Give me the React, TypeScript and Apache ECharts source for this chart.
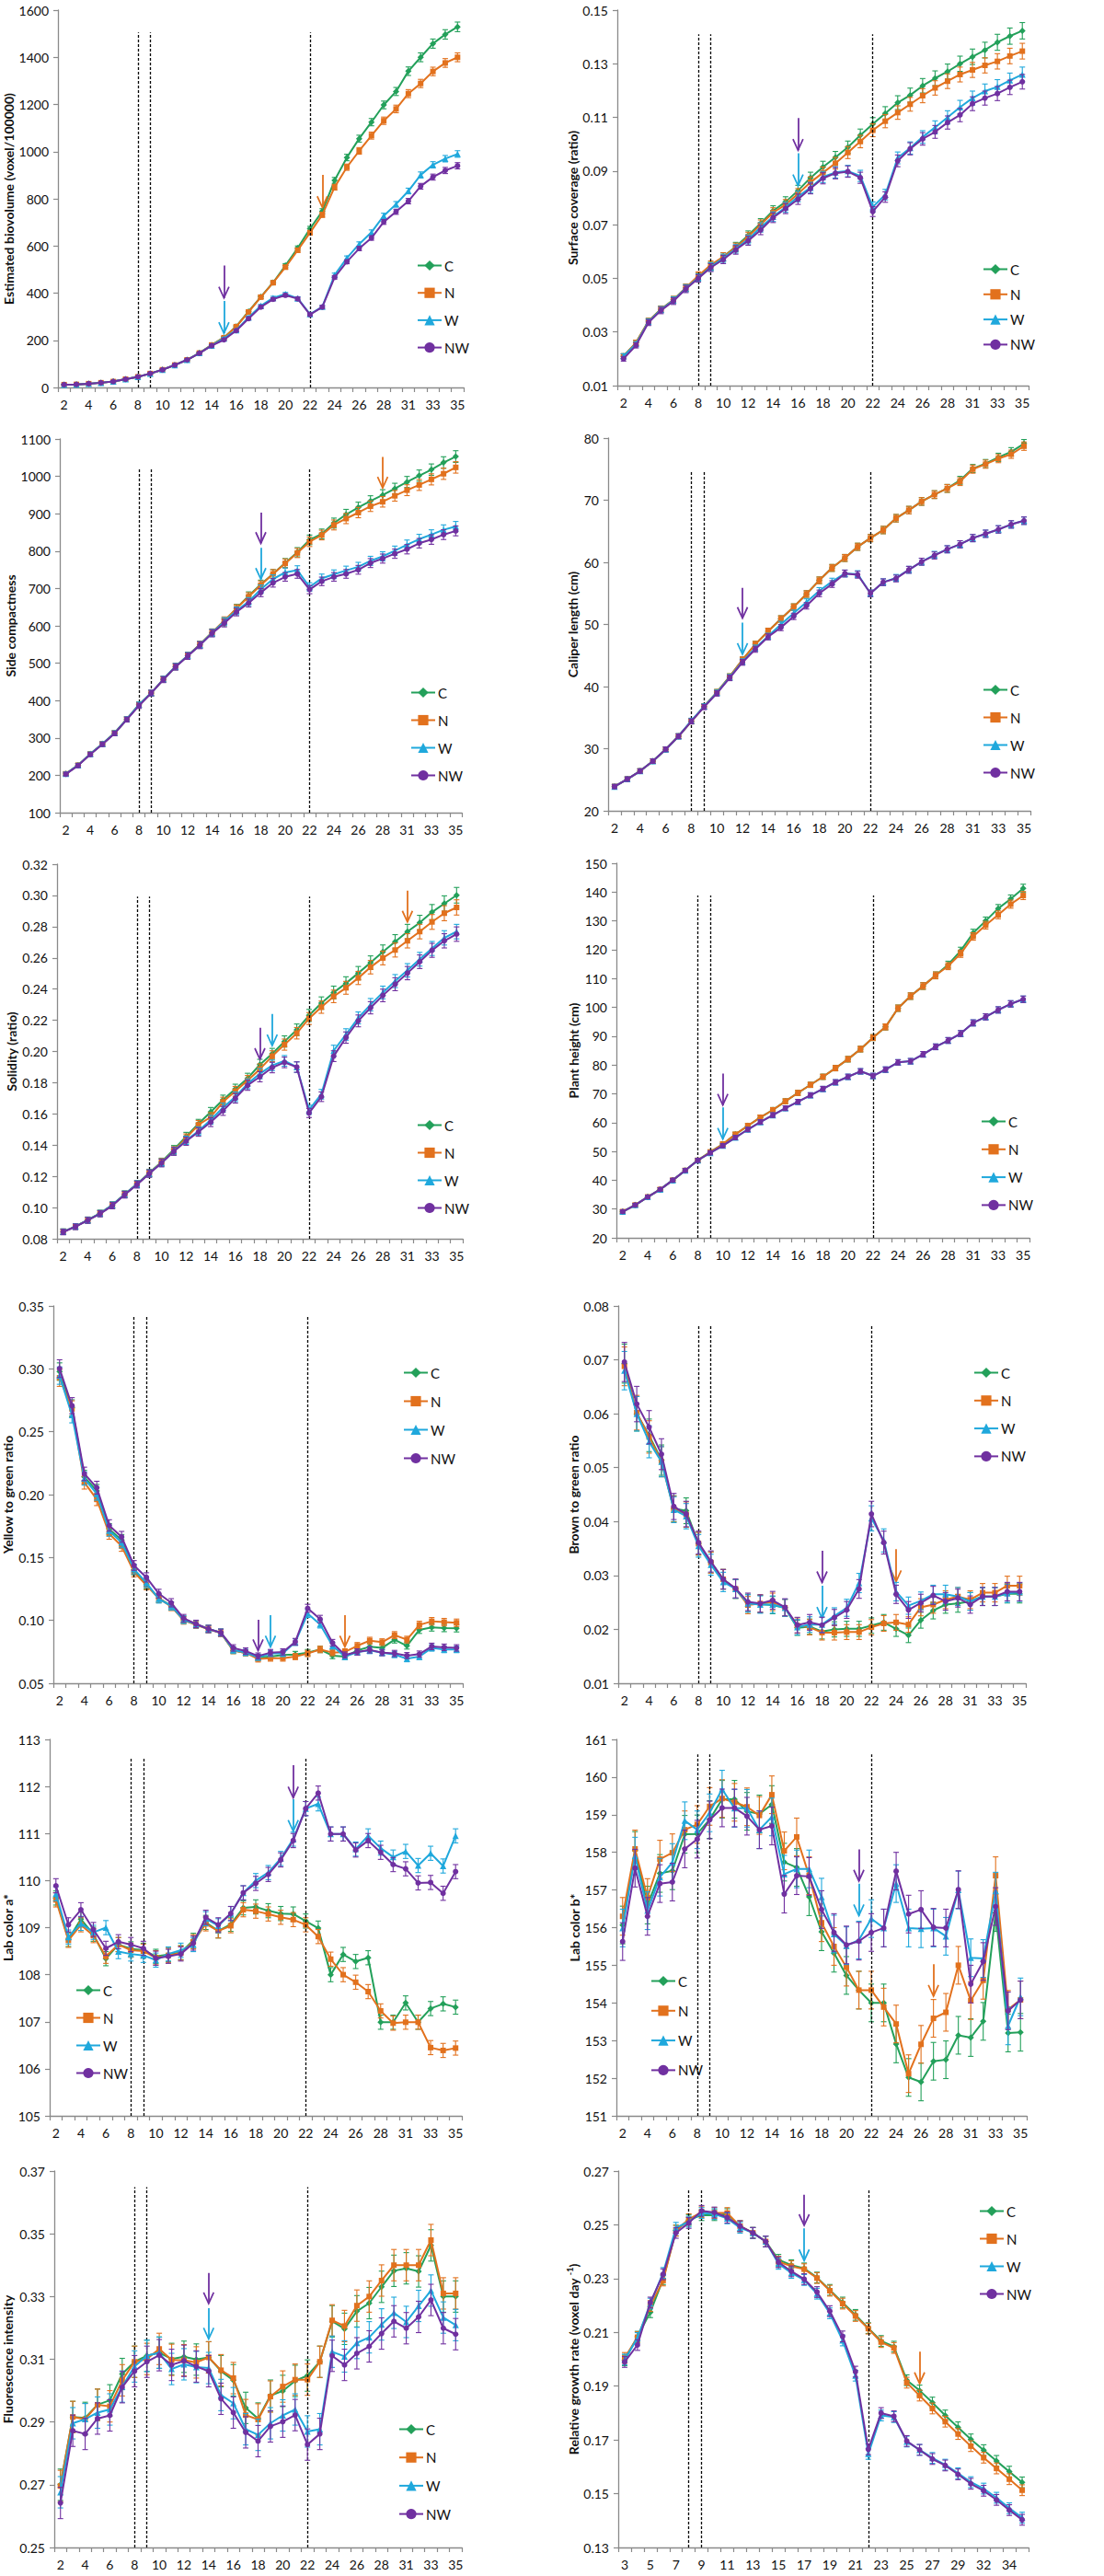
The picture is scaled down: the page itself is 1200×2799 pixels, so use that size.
import React, { useEffect, useRef } from 'react';
import * as echarts from 'echarts';

// ---------- categories ----------
const DAYS = ['2','3','4','5','6','7','8','9','10','11','12','13','14','15','16','17','18','19','20','21','22','23','24','25','26','27','28','29','31','32','33','34','35'];
const DAYS_RGR = ['3','4','5','6','7','8','9','10','11','12','13','14','15','16','17','18','19','20','21','22','23','24','25','26','27','28','29','31','32','33','34','35'];

const NAMES = ['C', 'N', 'W', 'NW'];
const COLORS = ['#23a05a', '#e2711d', '#1fa8dc', '#7030a0'];
const SYMBOLS = ['diamond', 'rect', 'triangle', 'circle'];
const SYMBOL_SIZES = [7, 6, 7, 6];
const DASH_DAYS = ['8', '9', '22'];

// ---------- 1 Estimated biovolume ----------
const bioC = [12,13,16,20,25,35,45,59,75,95,117,146,180,212,259,322,384,445,517,591,673,747,878,975,1055,1125,1198,1255,1341,1400,1458,1497,1529];
const bioN = [12,13,16,20,25,35,45,59,75,95,117,146,180,211,258,320,383,444,510,582,656,732,849,934,1003,1068,1131,1181,1246,1289,1340,1376,1400];
const bioW = [12,13,16,20,25,35,45,59,75,95,117,146,178,208,243,297,346,380,396,378,311,342,477,549,608,658,728,777,833,901,944,970,990];
const bioNW = [12,13,16,20,25,35,45,59,75,95,117,145,177,202,241,292,341,374,391,376,309,341,467,533,589,634,702,745,790,853,892,920,940];
const bioArrows = [['15', 517, 380, 3], ['15', 367, 230, 2], ['23', 901, 764, 1]];

// ---------- 2 Surface coverage ----------
const covC = [0.021,0.026,0.034,0.0385,0.042,0.0465,0.0505,0.0545,0.058,0.0618,0.066,0.0705,0.0752,0.0785,0.0827,0.0875,0.0915,0.0951,0.0989,0.1033,0.1075,0.1115,0.1155,0.1183,0.1218,0.1246,0.1271,0.130,0.1326,0.1351,0.138,0.1403,0.1423];
const covN = [0.021,0.026,0.034,0.0385,0.042,0.0465,0.051,0.055,0.058,0.0615,0.0655,0.070,0.0745,0.0775,0.0815,0.0858,0.0894,0.0929,0.0969,0.101,0.1052,0.1086,0.1118,0.1149,0.1181,0.121,0.1235,0.126,0.1277,0.1294,0.1309,0.1329,0.1347];
const covW = [0.021,0.0255,0.0338,0.0383,0.0418,0.0463,0.0502,0.0543,0.0575,0.061,0.0645,0.069,0.073,0.0765,0.0805,0.0838,0.0878,0.0895,0.0900,0.0882,0.0766,0.0812,0.0949,0.0986,0.1027,0.1063,0.110,0.1138,0.1172,0.1198,0.1214,0.1238,0.126];
const covNW = [0.020,0.025,0.0335,0.038,0.0415,0.046,0.050,0.054,0.057,0.0606,0.064,0.068,0.0726,0.076,0.0795,0.0835,0.0873,0.0892,0.0898,0.0875,0.0749,0.0803,0.0938,0.0983,0.102,0.1046,0.1081,0.1109,0.1151,0.1172,0.1189,0.1212,0.1233];
const covArrows = [['16', 0.1098, 0.0978, 3], ['16', 0.0966, 0.0846, 2]];

// ---------- 3 Side compactness ----------
const sideC = [204,227,257,284,313,350,389,420,457,491,520,550,582,610,647,680,711,739,768,797,830,846,875,898,917,934,950,967,985,1002,1018,1037,1053];
const sideN = [204,227,257,284,313,350,389,420,457,491,520,550,582,614,646,678,709,739,767,795,825,843,870,887,903,920,932,948,963,977,992,1007,1024];
const sideW = [204,227,257,284,313,350,389,420,457,491,520,549,581,612,640,665,698,725,743,749,704,727,738,748,758,774,786,801,817,832,844,857,866];
const sideNW = [203,226,256,283,312,349,386,420,456,490,519,548,580,607,637,661,689,715,731,739,697,719,731,739,750,768,780,793,805,821,831,844,854];
const sideArrows = [['18', 903, 821, 3], ['18', 809, 725, 2], ['28', 1052, 969, 1]];

// ---------- 4 Caliper length ----------
const calC = [23.9,25.1,26.4,28.0,29.9,32.0,34.4,36.8,39.1,41.6,44.3,46.8,48.9,50.9,52.8,54.9,57.1,59.1,60.7,62.5,63.9,65.2,67.1,68.4,69.8,70.9,71.9,73.2,75.1,75.9,76.9,77.8,79.1];
const calN = [23.9,25.1,26.4,28.0,29.9,32.0,34.4,36.8,39.1,41.6,44.3,46.8,48.9,50.9,52.8,54.9,57.1,59.1,60.7,62.5,63.9,65.2,67.1,68.4,69.8,70.9,71.9,73.0,75.0,75.8,76.7,77.4,78.7];
const calW = [23.9,25.1,26.4,28.0,29.9,32.0,34.5,36.8,39.0,41.5,44.0,46.2,48.1,50.0,51.8,53.6,55.4,56.9,58.2,58.1,55.0,56.8,57.5,58.8,60.1,61.2,62.1,62.9,63.9,64.6,65.3,66.1,66.7];
const calNW = [23.9,25.1,26.4,28.0,29.9,32.0,34.4,36.7,38.9,41.4,43.9,46.0,48.0,49.5,51.3,53.0,55.0,56.5,58.2,58.0,55.0,56.8,57.4,58.8,60.1,61.1,62.1,62.9,63.9,64.6,65.3,66.1,66.7];
const calArrows = [['12', 55.9, 51.0, 3], ['12', 50.3, 45.2, 2]];

// ---------- 5 Solidity ----------
const solC = [0.0845,0.0879,0.092,0.0963,0.1016,0.1085,0.1150,0.1222,0.1292,0.1372,0.1455,0.1537,0.1612,0.169,0.1759,0.1828,0.1916,0.1985,0.2064,0.2139,0.2231,0.231,0.2378,0.2437,0.2502,0.2569,0.2638,0.2703,0.2768,0.2825,0.2893,0.2948,0.3001];
const solN = [0.0845,0.0879,0.092,0.0963,0.1016,0.1085,0.1150,0.1220,0.1290,0.1365,0.1445,0.153,0.158,0.1677,0.1745,0.1814,0.1887,0.197,0.2044,0.2117,0.2211,0.2284,0.2353,0.2408,0.2471,0.254,0.2599,0.265,0.2709,0.2768,0.283,0.2886,0.2923];
const solW = [0.0845,0.0879,0.092,0.0963,0.1016,0.1085,0.1150,0.1219,0.1287,0.1362,0.1431,0.149,0.1562,0.164,0.171,0.1793,0.1858,0.1911,0.194,0.190,0.1626,0.1726,0.2005,0.2109,0.2215,0.230,0.2378,0.2451,0.252,0.2591,0.266,0.2728,0.2768];
const solNW = [0.0843,0.0877,0.0918,0.096,0.1012,0.1082,0.1147,0.1217,0.1285,0.1360,0.1425,0.1484,0.1547,0.162,0.170,0.1783,0.1838,0.1897,0.193,0.190,0.1606,0.171,0.197,0.2089,0.2196,0.228,0.2359,0.2431,0.2502,0.2575,0.2648,0.2709,0.2752];
const solArrows = [['18', 0.2152, 0.195, 3], ['19', 0.2241, 0.2038, 2], ['31', 0.3031, 0.283, 1]];

// ---------- 6 Plant height ----------
const hC = [29.1,31.4,34.2,36.8,40.0,43.4,46.9,49.8,52.5,55.9,58.9,61.8,64.4,67.4,70.3,73.1,75.9,78.9,82.0,85.5,89.5,93.2,99.7,103.9,107.4,111.1,114.8,119.6,125.8,130.0,134.3,137.6,141.3];
const hN = [29.1,31.4,34.2,36.8,40.0,43.4,46.9,49.8,52.5,55.9,58.9,61.8,64.4,67.4,70.3,73.1,75.9,78.9,82.0,85.5,89.5,93.2,99.7,103.9,107.4,111.1,114.3,118.6,124.6,128.5,132.1,135.8,138.8];
const hW = [29.1,31.4,34.2,36.8,40.0,43.4,46.9,49.5,52.0,54.8,57.6,60.2,62.6,65.0,67.2,69.5,71.7,74.0,75.9,77.8,76.2,78.4,80.9,81.3,83.7,86.3,88.5,90.9,94.6,96.7,99.1,101.2,102.8];
const hNW = [29.1,31.4,34.2,36.8,40.0,43.4,46.9,49.5,52.0,54.8,57.6,60.2,62.6,65.0,67.2,69.5,71.7,74.0,75.9,77.8,76.2,78.4,80.9,81.3,83.7,86.3,88.5,90.9,94.6,96.7,99.1,101.2,102.8];
const hArrows = [['10', 77.0, 66.1, 3], ['10', 65.3, 54.3, 2]];

// ---------- 7 Yellow to green ratio ----------
const ygC = [0.2978,0.269,0.214,0.203,0.1725,0.164,0.1401,0.1286,0.1176,0.1115,0.1005,0.0969,0.0932,0.0903,0.0761,0.0742,0.0705,0.0712,0.0725,0.0729,0.0744,0.0769,0.072,0.0712,0.0761,0.079,0.0781,0.0847,0.0798,0.0925,0.0944,0.0939,0.0937];
const ygN = [0.2929,0.2682,0.2096,0.1962,0.1689,0.1591,0.1384,0.1279,0.1176,0.111,0.100,0.0965,0.093,0.090,0.0761,0.0742,0.0693,0.070,0.070,0.0712,0.0737,0.0769,0.0744,0.0749,0.0798,0.0839,0.0827,0.0883,0.0847,0.0964,0.0993,0.0986,0.0981];
const ygW = [0.2946,0.2633,0.2128,0.2006,0.1713,0.162,0.1408,0.1298,0.1171,0.1115,0.1005,0.0969,0.0932,0.0903,0.0765,0.0745,0.0707,0.0737,0.0737,0.0827,0.1054,0.0969,0.0798,0.0712,0.0749,0.0761,0.0744,0.0729,0.0695,0.0712,0.0781,0.0769,0.0769];
const ygNW = [0.3002,0.2707,0.2165,0.2055,0.1755,0.1664,0.1437,0.1342,0.1213,0.114,0.1017,0.0972,0.0932,0.0903,0.0781,0.0756,0.0717,0.0744,0.0749,0.083,0.1096,0.101,0.0822,0.0725,0.0749,0.0766,0.0744,0.0737,0.072,0.0732,0.0793,0.0786,0.0781];
const ygArrows = [['18', 0.1005, 0.0761, 3], ['19', 0.1042, 0.079, 2], ['25', 0.1042, 0.079, 1]];

// ---------- 8 Brown to green ratio ----------
const bgC = [0.0693,0.060,0.056,0.0514,0.0424,0.042,0.0359,0.0324,0.0293,0.0275,0.0249,0.0247,0.0245,0.024,0.0203,0.0205,0.0196,0.020,0.0201,0.0201,0.0207,0.0213,0.0201,0.0189,0.0217,0.0235,0.0246,0.0248,0.0252,0.0261,0.0261,0.0266,0.0266];
const bgN = [0.0688,0.0602,0.0557,0.0511,0.0423,0.0413,0.0359,0.0324,0.0293,0.0275,0.0245,0.0248,0.0251,0.024,0.0207,0.0204,0.0194,0.0194,0.0195,0.0195,0.0204,0.0211,0.0213,0.0209,0.0241,0.0246,0.0255,0.0261,0.0255,0.0268,0.0268,0.0281,0.0281];
const bgW = [0.068,0.060,0.0548,0.0511,0.0422,0.041,0.0355,0.032,0.0288,0.0275,0.0248,0.0246,0.0246,0.024,0.0204,0.0209,0.0209,0.0225,0.024,0.0286,0.0406,0.0365,0.027,0.0244,0.0253,0.0265,0.0265,0.0261,0.0252,0.0261,0.0261,0.0267,0.0269];
const bgNW = [0.0696,0.0618,0.0575,0.0525,0.0428,0.0414,0.0361,0.0326,0.0293,0.0276,0.0251,0.0248,0.0254,0.0241,0.0208,0.0213,0.0208,0.0222,0.0236,0.0275,0.0414,0.0361,0.0265,0.0236,0.0249,0.0263,0.0252,0.0258,0.0246,0.0261,0.0261,0.027,0.027];
const bgArrows = [['18', 0.0346, 0.0287, 3], ['18', 0.0281, 0.0221, 2], ['24', 0.0349, 0.0289, 1]];

// ---------- 9 Lab color a* ----------
const aC = [109.63,108.75,109.18,108.86,108.34,108.64,108.55,108.52,108.39,108.43,108.47,108.73,109.11,108.93,109.07,109.42,109.44,109.36,109.30,109.29,109.14,108.99,108.00,108.43,108.28,108.36,106.99,106.99,107.40,106.99,107.28,107.38,107.31];
const aN = [109.59,108.73,109.06,108.83,108.39,108.64,108.52,108.50,108.36,108.41,108.46,108.70,109.08,108.93,109.04,109.38,109.35,109.29,109.22,109.17,109.06,108.81,108.33,108.00,107.84,107.64,107.23,106.97,106.99,106.99,106.45,106.39,106.44];
const aW = [109.72,108.80,109.09,108.90,109.00,108.49,108.44,108.41,108.31,108.44,108.52,108.64,109.19,109.04,109.30,109.74,110.00,110.17,110.47,110.88,111.53,111.63,110.99,110.99,110.67,110.95,110.69,110.50,110.62,110.32,110.58,110.31,110.95];
const aNW = [109.89,109.06,109.38,108.96,108.56,108.70,108.64,108.56,108.35,108.39,108.44,108.67,109.22,109.06,109.30,109.74,109.94,110.13,110.44,110.85,111.53,111.86,110.99,110.99,110.65,110.85,110.60,110.34,110.25,109.95,109.96,109.73,110.19];
const aArrows = [['21', 112.45, 111.76, 3], ['21', 111.73, 111.05, 2]];

// ---------- 10 Lab color b* ----------
const bC = [156.07,158.05,156.6,157.44,157.51,158.48,158.49,158.87,159.41,159.41,159.09,159.02,159.27,157.74,157.60,156.82,155.89,155.32,154.73,154.34,154.00,154.00,152.91,152.02,151.90,152.45,152.49,153.14,153.08,153.51,156.4,153.2,153.22];
const bN = [156.30,158.09,156.8,157.82,157.99,158.60,158.74,159.22,159.43,159.33,159.21,158.98,159.53,158.04,158.41,157.38,156.13,155.50,154.95,154.34,154.34,153.89,153.44,152.12,152.90,153.59,153.75,155.00,154.06,154.6,157.38,153.83,154.08];
const bW = [155.99,157.90,156.45,157.34,157.73,158.84,158.60,159.05,159.68,159.17,159.17,158.60,158.94,157.42,157.56,157.56,156.81,155.83,155.52,155.67,156.24,155.99,157.17,155.99,155.97,155.99,155.77,157.00,155.20,155.18,156.97,153.39,154.16];
const bNW = [155.63,157.58,156.3,157.17,157.21,158.09,158.35,158.86,159.18,159.18,158.96,158.60,158.70,156.89,157.38,157.36,156.48,155.87,155.54,155.64,155.87,155.99,157.50,156.36,156.48,156.01,155.99,157.01,154.50,155.10,156.56,153.79,154.08];
const bArrows = [['21', 158.08, 157.24, 3], ['21', 157.17, 156.32, 2], ['27', 155.03, 154.18, 1]];

// ---------- 11 Fluorescence intensity ----------
const flC = [0.270,0.2916,0.2913,0.2955,0.2969,0.3053,0.3092,0.3111,0.3121,0.3101,0.3108,0.3099,0.3106,0.3062,0.3033,0.2945,0.2911,0.2984,0.2999,0.3031,0.3048,0.3092,0.3221,0.3197,0.3253,0.3279,0.3331,0.3382,0.339,0.338,0.3463,0.330,0.330];
const flN = [0.2696,0.2916,0.2909,0.2955,0.295,0.3033,0.3092,0.3101,0.3133,0.3098,0.3097,0.309,0.3106,0.3065,0.304,0.2922,0.2908,0.2981,0.3013,0.3035,0.3035,0.3092,0.3224,0.3206,0.3271,0.330,0.3351,0.340,0.340,0.340,0.348,0.331,0.331];
const flW = [0.2676,0.2896,0.2909,0.293,0.294,0.3013,0.3077,0.3111,0.3121,0.3069,0.3084,0.3075,0.3072,0.2986,0.296,0.2877,0.2859,0.2896,0.2921,0.294,0.287,0.2877,0.3124,0.3109,0.3152,0.317,0.3211,0.3248,0.3219,0.327,0.3319,0.3233,0.3209];
const flNW = [0.2642,0.2872,0.2862,0.2911,0.2921,0.3011,0.3062,0.3092,0.3113,0.3082,0.3095,0.3077,0.3062,0.2974,0.293,0.2867,0.2839,0.2886,0.2901,0.2922,0.2828,0.2862,0.3111,0.3082,0.3119,0.3141,0.3182,0.3221,0.3199,0.3235,0.3289,0.3199,0.318];
const flArrows = [['14', 0.3375, 0.3278, 3], ['14', 0.3263, 0.3165, 2]];

// ---------- 12 Relative growth rate ----------
const rgrC = [0.1996,0.2084,0.2175,0.2298,0.2479,0.2518,0.2536,0.2536,0.254,0.2495,0.247,0.2438,0.237,0.235,0.2338,0.2304,0.2258,0.2211,0.2165,0.2116,0.2068,0.2047,0.1922,0.1884,0.1839,0.1791,0.1747,0.1702,0.1662,0.1622,0.1582,0.1542];
const rgrN = [0.2005,0.2082,0.2198,0.2293,0.2478,0.2521,0.2547,0.2544,0.2544,0.2495,0.247,0.2438,0.2363,0.2346,0.2335,0.2302,0.2255,0.2207,0.2161,0.2114,0.2064,0.2042,0.1913,0.1865,0.1817,0.1768,0.1722,0.1677,0.1634,0.1594,0.1554,0.1513];
const rgrW = [0.1999,0.2079,0.2207,0.2321,0.2489,0.2512,0.2544,0.254,0.2524,0.2489,0.247,0.2438,0.2355,0.2321,0.2295,0.2244,0.2171,0.207,0.1939,0.1648,0.1791,0.1785,0.1694,0.1663,0.1633,0.1608,0.1576,0.1543,0.1519,0.1485,0.1446,0.1411];
const rgrNW = [0.199,0.2053,0.2211,0.2316,0.247,0.2507,0.2552,0.2546,0.2527,0.2495,0.247,0.2438,0.2361,0.2327,0.2298,0.225,0.2179,0.2085,0.1954,0.1665,0.180,0.1788,0.1696,0.1663,0.1629,0.1605,0.1572,0.1537,0.1511,0.1477,0.1439,0.1403];
const rgrArrows = [['17', 0.2612, 0.2498, 3], ['17', 0.2487, 0.2367, 2], ['26', 0.2028, 0.1910, 1]];

// ---------- panel definitions ----------
const PANELS = [
  { title: 'Estimated biovolume (voxel/100000)', cats: DAYS, data: [bioC, bioN, bioW, bioNW], arrows: bioArrows, min: 0, max: 1600, step: 200, dec: 0, dashTop: 1505, errAbs: 2, errRel: 0.012 },
  { title: 'Surface coverage (ratio)', cats: DAYS, data: [covC, covN, covW, covNW], arrows: covArrows, min: 0.01, max: 0.15, step: 0.02, dec: 2, dashTop: 0.141, errAbs: 0.0005, errRel: 0.018 },
  { title: 'Side compactness', cats: DAYS, data: [sideC, sideN, sideW, sideNW], arrows: sideArrows, min: 100, max: 1100, step: 100, dec: 0, dashTop: 1022, errAbs: 2, errRel: 0.013 },
  { title: 'Caliper length (cm)', cats: DAYS, data: [calC, calN, calW, calNW], arrows: calArrows, min: 20, max: 80, step: 10, dec: 0, dashTop: 74.7, errAbs: 0.2, errRel: 0.006 },
  { title: 'Solidity (ratio)', cats: DAYS, data: [solC, solN, solW, solNW], arrows: solArrows, min: 0.08, max: 0.32, step: 0.02, dec: 2, dashTop: 0.2992, errAbs: 0.0005, errRel: 0.015 },
  { title: 'Plant height (cm)', cats: DAYS, data: [hC, hN, hW, hNW], arrows: hArrows, min: 20, max: 150, step: 10, dec: 0, dashTop: 138.8, errAbs: 0.3, errRel: 0.008 },
  { title: 'Yellow to green ratio', cats: DAYS, data: [ygC, ygN, ygW, ygNW], arrows: ygArrows, min: 0.05, max: 0.35, step: 0.05, dec: 2, dashTop: 0.342, errAbs: 0.001, errRel: 0.02 },
  { title: 'Brown to green ratio', cats: DAYS, data: [bgC, bgN, bgW, bgNW], arrows: bgArrows, min: 0.01, max: 0.08, step: 0.01, dec: 2, dashTop: 0.0766, errAbs: 0.0005, errRel: 0.045 },
  { title: 'Lab color a*', cats: DAYS, data: [aC, aN, aW, aNW], arrows: aArrows, min: 105, max: 113, step: 1, dec: 0, dashTop: 112.6, errAbs: 0.15, errRel: 0 },
  { title: 'Lab color b*', cats: DAYS, data: [bC, bN, bW, bNW], arrows: bArrows, min: 151, max: 161, step: 1, dec: 0, dashTop: 160.6, errAbs: 0.5, errRel: 0 },
  { title: 'Fluorescence intensity', cats: DAYS, data: [flC, flN, flW, flNW], arrows: flArrows, min: 0.25, max: 0.37, step: 0.02, dec: 2, dashTop: 0.3649, errAbs: 0.005, errRel: 0 },
  { title: 'Relative growth rate (voxel day {sup|-1})', cats: DAYS_RGR, data: [rgrC, rgrN, rgrW, rgrNW], arrows: rgrArrows, min: 0.13, max: 0.27, step: 0.02, dec: 2, dashTop: 0.2635, errAbs: 0.002, errRel: 0 },
];

// layout: [left, top, width, height], nameGap, legend [left, firstItemCenterY, spacing]
const LAYOUT = [
  { box: [63, 11, 441, 410], gap: 44, leg: [448, 283, 28.7] },
  { box: [671, 11, 447, 408], gap: 42, leg: [1063, 287, 26.3] },
  { box: [65, 477, 437, 406], gap: 46, leg: [441, 747, 29] },
  { box: [661, 476, 459, 405], gap: 32, leg: [1063, 744, 29] },
  { box: [62, 939, 441, 407], gap: 43, leg: [448, 1217, 29] },
  { box: [670, 938, 449, 407], gap: 40, leg: [1061, 1213, 29.3] },
  { box: [57, 1419, 446, 410], gap: 43, leg: [433, 1486, 30] },
  { box: [672, 1419, 443, 410], gap: 41, leg: [1053, 1486, 29.3] },
  { box: [54, 1890, 448, 409], gap: 38, leg: [77, 2157, 29] },
  { box: [670, 1890, 446, 409], gap: 39, leg: [702, 2147, 31.3] },
  { box: [59, 2359, 443, 409], gap: 44, leg: [428, 2634, 29.7] },
  { box: [672, 2359, 446, 409], gap: 40, leg: [1059, 2397, 29] },
];

const FONT = 'Lato, "Open Sans", sans-serif';
const AXIS_COLOR = '#8a8a8a';

function buildOption() {
  const grid: any[] = [];
  const xAxis: any[] = [];
  const yAxis: any[] = [];
  const legend: any[] = [];
  const series: any[] = [];

  PANELS.forEach((p, pi) => {
    const L = LAYOUT[pi];
    grid.push({ left: L.box[0], top: L.box[1], width: L.box[2], height: L.box[3] });
    xAxis.push({
      type: 'category', gridIndex: pi, data: p.cats, boundaryGap: true,
      axisLine: { lineStyle: { color: AXIS_COLOR, width: 1.3 } },
      axisTick: { show: true, interval: 0, length: 5, lineStyle: { color: AXIS_COLOR, width: 1.2 } },
      axisLabel: { interval: 1, color: '#111', fontSize: 14, fontFamily: FONT, margin: 11 },
      splitLine: { show: false },
    });
    yAxis.push({
      type: 'value', gridIndex: pi, min: p.min, max: p.max, interval: p.step,
      name: p.title, nameLocation: 'middle', nameRotate: 90, nameGap: L.gap,
      nameTextStyle: {
        fontWeight: 'bold', fontSize: 14, color: '#111', fontFamily: FONT,
        rich: { sup: { fontSize: 9, fontWeight: 'bold', color: '#111', fontFamily: FONT, padding: [0, 0, 7, 0] } },
      },
      axisLine: { show: true, lineStyle: { color: AXIS_COLOR, width: 1.3 } },
      axisTick: { show: true, length: 5, lineStyle: { color: AXIS_COLOR, width: 1.2 } },
      axisLabel: { color: '#111', fontSize: 14, fontFamily: FONT, margin: 10, formatter: (v: number) => v.toFixed(p.dec) },
      splitLine: { show: false },
    });
    legend.push({
      orient: 'vertical', left: L.leg[0], top: L.leg[1] - 7,
      itemWidth: 26, itemHeight: 14, itemGap: L.leg[2] - 14,
      data: NAMES, selectedMode: false,
      textStyle: { fontSize: 15, color: '#111', fontFamily: FONT, padding: [0, 0, 0, -2] },
    });

    const idxOf = (c: string) => p.cats.indexOf(c);
    const dashData = DASH_DAYS.map((d) => [
      { coord: [idxOf(d), p.min], lineStyle: { color: '#000', width: 1.3, type: [3, 2] } },
      { coord: [idxOf(d), p.dashTop] },
    ]);
    const arrowLines = p.arrows.map((a: any) => [
      { coord: [idxOf(a[0]), a[1]], lineStyle: { color: COLORS[a[3]], width: 1.8, type: 'solid' } },
      { coord: [idxOf(a[0]), a[2]] },
    ]);
    const arrowHeads = p.arrows.map((a: any) => ({
      coord: [idxOf(a[0]), a[2]],
      symbol: 'path://M0,0 L6,12 L12,0',
      symbolSize: [11, 12],
      symbolOffset: [0, -6],
      itemStyle: { color: 'none', borderColor: COLORS[a[3]], borderWidth: 1.8 },
    }));

    p.data.forEach((vals: number[], si: number) => {
      const color = COLORS[si];
      series.push({
        type: 'line', name: NAMES[si], xAxisIndex: pi, yAxisIndex: pi,
        data: vals, color,
        symbol: SYMBOLS[si], symbolSize: SYMBOL_SIZES[si], showSymbol: true,
        lineStyle: { width: 2, color },
        itemStyle: { color },
        z: 3 + si,
        silent: true,
        markLine: si === 0 ? {
          silent: true, symbol: ['none', 'none'], label: { show: false },
          emphasis: { disabled: true },
          data: [...dashData, ...arrowLines],
        } : undefined,
        markPoint: si === 0 ? {
          silent: true, label: { show: false }, data: arrowHeads,
        } : undefined,
      });
    });
    p.data.forEach((vals: number[], si: number) => {
      const color = COLORS[si];
      series.push({
        type: 'custom', name: NAMES[si] + '_err', xAxisIndex: pi, yAxisIndex: pi,
        coordinateSystem: 'cartesian2d', silent: true, z: 3 + si,
        data: vals.map((v, i) => [i, v, p.errAbs + p.errRel * v]),
        encode: { x: 0, y: 1 },
        renderItem: (params: any, api: any) => {
          const i = api.value(0), v = api.value(1), e = api.value(2);
          const t = api.coord([i, v + e]);
          const b = api.coord([i, v - e]);
          const w = 3;
          const st = { stroke: color, lineWidth: 1.1 };
          return {
            type: 'group',
            children: [
              { type: 'line', shape: { x1: t[0], y1: t[1], x2: b[0], y2: b[1] }, style: st },
              { type: 'line', shape: { x1: t[0] - w, y1: t[1], x2: t[0] + w, y2: t[1] }, style: st },
              { type: 'line', shape: { x1: b[0] - w, y1: b[1], x2: b[0] + w, y2: b[1] }, style: st },
            ],
          };
        },
      });
    });
  });

  return {
    animation: false,
    backgroundColor: '#ffffff',
    textStyle: { fontFamily: FONT },
    grid, xAxis, yAxis, legend, series,
  };
}

export default function App() {
  const ref = useRef<HTMLDivElement>(null);
  useEffect(() => {
    document.body.style.margin = '0';
    if (!ref.current) return;
    const chart = echarts.init(ref.current, undefined, { renderer: 'svg' });
    chart.setOption(buildOption() as any);
    return () => chart.dispose();
  }, []);
  return <div ref={ref} style={{ width: 1200, height: 2799 }} />;
}
